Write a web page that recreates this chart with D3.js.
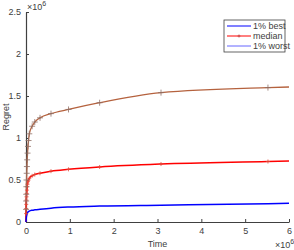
<!DOCTYPE html>
<html>
<head>
<meta charset="utf-8">
<script src="https://cdn.jsdelivr.net/npm/d3@7"></script>
<style>
body { margin:0; background:#fff; }
text { font-family:"Liberation Sans", Arial, sans-serif; font-size:9px; fill:#404040; }
</style>
</head>
<body>
<div id="sketch1"></div>
<script>
// time in units of 1e6, regret in units of 1e6
var time = [0, 0.002, 0.004, 0.006, 0.009, 0.012, 0.016, 0.021, 0.027, 0.035, 0.045, 0.058, 0.075, 0.14, 0.2, 0.32, 0.57, 0.97, 1.68, 3.08, 5.52, 6.0];
var best = [0, 0.02, 0.035, 0.045, 0.06, 0.07, 0.08, 0.09, 0.1, 0.108, 0.12, 0.125, 0.13, 0.14, 0.145, 0.152, 0.165, 0.178, 0.19, 0.2, 0.218, 0.222];
var median = [0, 0.1, 0.16, 0.21, 0.26, 0.3, 0.34, 0.38, 0.42, 0.45, 0.48, 0.5, 0.52, 0.55, 0.565, 0.58, 0.605, 0.627, 0.655, 0.69, 0.72, 0.726];
var worst = [0, 0.15, 0.25, 0.33, 0.42, 0.5, 0.58, 0.66, 0.74, 0.82, 0.9, 0.97, 1.05, 1.14, 1.19, 1.24, 1.29, 1.34, 1.42, 1.54, 1.6, 1.607];
var xTicks = [0, 1, 2, 3, 4, 5, 6];
var yTicks = [0, 0.5, 1, 1.5, 2, 2.5];
var legendNames = ["1% best", "median", "1% worst"];

var margin = {t:12, r:5, b:28, l:26};
var W = 294, H = 250;
var width = W - margin.l - margin.r,
    height = H - margin.t - margin.b;

var svg = d3.select('#sketch1').append('svg')
    .attr('width', W).attr('height', H);
var g = svg.append('g')
    .attr('transform', 'translate(' + margin.l + ',' + margin.t + ')');

var scaleX = d3.scaleLinear().domain([0, 6]).range([0, width]);
var scaleY = d3.scaleLinear().domain([0, 2.5]).range([height, 0]);

function series(vals) {
    return time.map(function(t, i){ return {t:t, v:vals[i]}; });
}
var line = d3.line()
    .curve(d3.curveMonotoneX)
    .x(function(d){ return scaleX(d.t); })
    .y(function(d){ return scaleY(d.v); });

// axes
var fmt = function(d){ return String(d); };
var axX = g.append('g')
    .attr('transform', 'translate(0,' + height + ')')
    .call(d3.axisBottom(scaleX).tickValues(xTicks).tickFormat(fmt).tickSizeInner(-3).tickSizeOuter(0).tickPadding(6));
var axY = g.append('g')
    .call(d3.axisLeft(scaleY).tickValues(yTicks).tickFormat(fmt).tickSizeInner(-3).tickSizeOuter(0).tickPadding(5));
[axX, axY].forEach(function(a){
    a.select('.domain').attr('stroke', '#404040').attr('stroke-width', 1.2);
    a.selectAll('.tick line').attr('stroke', '#404040');
    a.selectAll('.tick text').style('font-size', '9px').attr('fill', '#404040')
        .style('font-family', '"Liberation Sans", Arial, sans-serif');
});

// lines
g.append('path').datum(series(worst)).attr('d', line)
    .attr('fill', 'none').attr('stroke', '#b5623e').attr('stroke-width', 1.3);
g.append('path').datum(series(median)).attr('d', line)
    .attr('fill', 'none').attr('stroke', '#ff0000').attr('stroke-width', 1.5);
g.append('path').datum(series(best)).attr('d', line)
    .attr('fill', 'none').attr('stroke', '#0000ff').attr('stroke-width', 1.5);

function plus(sel, data, color, s) {
    sel.selectAll(null).data(data.slice(1, data.length - 1)).enter()
        .append('path')
        .attr('d', function(d){
            var x = scaleX(d.t), y = scaleY(d.v);
            return 'M' + (x - s) + ',' + y + 'H' + (x + s) + 'M' + x + ',' + (y - s) + 'V' + (y + s);
        })
        .attr('stroke', color).attr('stroke-width', 0.8).attr('fill', 'none');
}
plus(g.append('g'), series(median), '#e04a3a', 2);
plus(g.append('g'), series(worst), '#8f6f64', 3);

// labels
svg.append('text').attr('x', margin.l + width / 2).attr('y', 247)
    .attr('text-anchor', 'middle').text('Time');
svg.append('text').attr('transform', 'translate(9,' + (margin.t + height / 2) + ') rotate(-90)')
    .attr('text-anchor', 'middle').text('Regret');

function expLabel(x, y) {
    var t = svg.append('text').attr('x', x).attr('y', y);
    t.append('tspan').text('\u00d710');
    t.append('tspan').attr('dy', -4).style('font-size', '7px').text('6');
}
expLabel(27, 10);
expLabel(275, 248);

// legend
var leg = svg.append('g').attr('transform', 'translate(224,20)');
leg.append('rect').attr('width', 61).attr('height', 32)
    .attr('fill', '#fff').attr('stroke', '#404040').attr('stroke-width', 0.8);
var legColors = ['#0000ff', '#ff0000', '#6666ff'];
legendNames.forEach(function(n, i){
    var y = 6 + i * 10;
    leg.append('line').attr('x1', 3).attr('x2', 27).attr('y1', y).attr('y2', y)
        .attr('stroke', legColors[i]).attr('stroke-width', 1);
    if (i == 1) {
        leg.append('path').attr('d', 'M13.5,' + y + 'H16.5M15,' + (y - 1.5) + 'V' + (y + 1.5))
            .attr('stroke', '#c04040').attr('stroke-width', 0.8);
    }
    leg.append('text').attr('x', 29).attr('y', y + 3).text(n);
});
</script>
</body>
</html>
